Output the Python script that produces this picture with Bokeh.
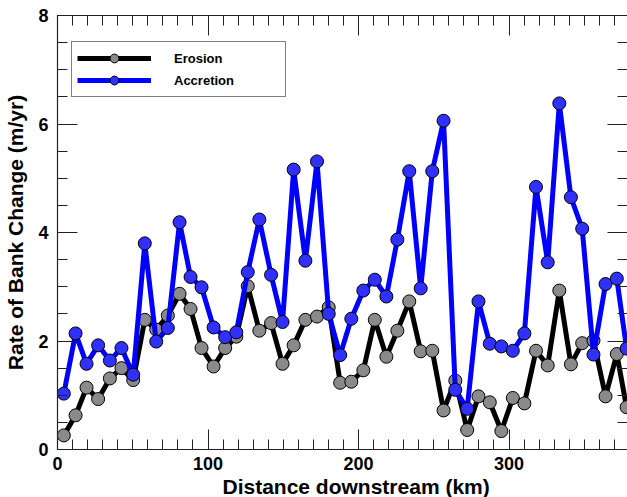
from bokeh.plotting import figure
from bokeh.models import Range1d, LinearAxis, SingleIntervalTicker, Legend, LegendItem, Title
from bokeh.embed import file_html
from bokeh.resources import INLINE

# Distance downstream (km) of each sampled reach
distance_km = [4.2, 12.0, 19.3, 27.0, 34.8, 42.5, 50.3, 58.0, 65.6, 73.3,
               81.1, 88.4, 95.7, 103.7, 111.4, 118.8, 126.4, 134.1, 141.9, 149.5,
               156.9, 164.7, 172.4, 180.2, 187.8, 195.2, 203.2, 210.8, 218.5, 225.8,
               233.7, 241.3, 249.0, 256.5, 264.3, 272.2, 279.7, 287.2, 294.9, 302.5,
               310.2, 317.9, 325.7, 333.4, 341.1, 348.6, 356.1, 364.1, 371.6, 378.1]

# Rate of bank change (m/yr)
erosion = [0.26, 0.63, 1.14, 0.93, 1.31, 1.50, 1.28, 2.39, 2.21, 2.47,
           2.87, 2.59, 1.87, 1.53, 1.87, 2.08, 3.01, 2.19, 2.33, 1.58,
           1.92, 2.39, 2.45, 2.62, 1.23, 1.25, 1.46, 2.39, 1.71, 2.19,
           2.73, 1.81, 1.82, 0.72, 1.27, 0.36, 0.98, 0.87, 0.34, 0.95,
           0.85, 1.82, 1.55, 2.93, 1.57, 1.96, 2.01, 0.98, 1.76, 0.78]

accretion = [1.03, 2.14, 1.58, 1.92, 1.64, 1.87, 1.38, 3.80, 1.99, 2.24,
             4.19, 3.18, 2.99, 2.25, 2.07, 2.16, 3.27, 4.24, 3.22, 2.35,
             5.16, 3.48, 5.31, 2.50, 1.74, 2.41, 2.93, 3.13, 2.82, 3.87,
             5.13, 2.97, 5.13, 6.06, 1.10, 0.75, 2.73, 1.95, 1.90, 1.82,
             2.14, 4.84, 3.45, 6.38, 4.65, 4.07, 1.75, 3.05, 3.15, 1.86]

series_labels = ["Erosion", "Accretion"]
x_label = "Distance downstream (km)"
y_label = "Rate of Bank Change (m/yr)"

FONT = "Liberation Sans"

p = figure(width=627, height=497, output_backend="svg", toolbar_location=None,
           x_range=Range1d(0, 378.7), y_range=Range1d(0, 8),
           min_border_left=57, min_border_right=0, min_border_top=15, min_border_bottom=48)
p.outline_line_color = None
p.xgrid.visible = False
p.ygrid.visible = False
p.background_fill_color = "white"
p.border_fill_color = "white"


def style_axis(ax, interval, minor, show_labels, line=True):
    ax.ticker = SingleIntervalTicker(interval=interval, num_minor_ticks=minor)
    ax.major_tick_in = 20
    ax.major_tick_out = 0
    ax.minor_tick_in = 10
    ax.minor_tick_out = 0
    ax.major_tick_line_color = "#222222"
    ax.minor_tick_line_color = "#222222"
    ax.axis_line_color = "#222222" if line else None
    ax.axis_line_width = 1.2
    if show_labels:
        ax.major_label_text_font = FONT
        ax.major_label_text_font_size = "18px"
        ax.major_label_text_font_style = "bold"
        ax.major_label_text_color = "black"
    else:
        ax.major_label_text_font_size = "1px"
        ax.major_label_text_color = None
        ax.major_label_text_alpha = 0
        ax.major_label_standoff = 0


style_axis(p.xaxis[0], 100, 10, True)
style_axis(p.yaxis[0], 2, 4, True)
p.xaxis[0].major_label_standoff = 7
p.yaxis[0].major_label_standoff = 9

p.yaxis[0].axis_label = y_label
p.yaxis[0].axis_label_text_font = FONT
p.yaxis[0].axis_label_text_font_size = "21px"
p.yaxis[0].axis_label_text_font_style = "bold"
p.yaxis[0].axis_label_text_color = "black"
p.yaxis[0].axis_label_standoff = 8

top_ax = LinearAxis()
style_axis(top_ax, 100, 10, False)
p.add_layout(top_ax, "above")
right_ax = LinearAxis()
style_axis(right_ax, 2, 4, False, line=False)
p.add_layout(right_ax, "right")

xt = Title(text=x_label, align="left", offset=165, text_font=FONT,
           text_font_size="21px", text_font_style="bold", text_color="black",
           standoff=0)
p.add_layout(xt, "below")

l1 = p.line(distance_km, erosion, line_color="black", line_width=5, line_join="round")
s1 = p.scatter(distance_km, erosion, size=13, fill_color="#8a8a8a",
               line_color="black", line_width=1)
l2 = p.line(distance_km, accretion, line_color="#0000ff", line_width=5, line_join="round")
s2 = p.scatter(distance_km, accretion, size=13, fill_color="#3030ff",
               line_color="black", line_width=1)

legend = Legend(items=[LegendItem(label=series_labels[0], renderers=[l1, s1]),
                       LegendItem(label=series_labels[1], renderers=[l2, s2])],
                location=(14, 352), padding=5, spacing=0, margin=0,
                glyph_width=74, glyph_height=22, label_height=22,
                label_width=106, label_standoff=23,
                label_text_font=FONT, label_text_font_size="13px",
                label_text_font_style="bold", label_text_color="black",
                border_line_color="black", border_line_width=1,
                background_fill_color="white", background_fill_alpha=1.0)
p.add_layout(legend)

open("out.html", "w").write(file_html(p, INLINE))
